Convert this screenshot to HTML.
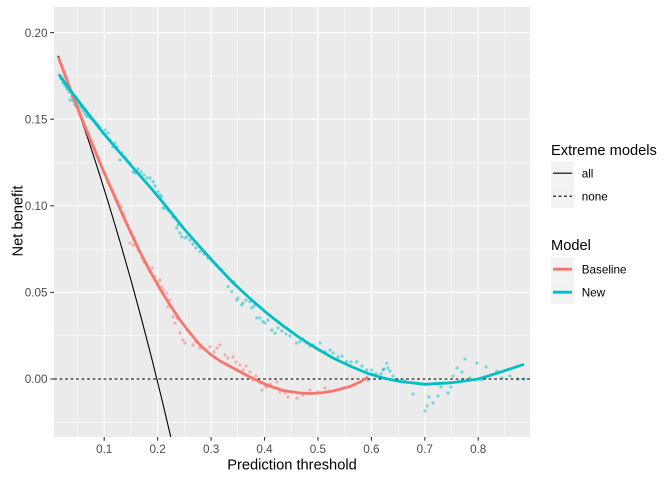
<!DOCTYPE html>
<html>
<head>
<meta charset="utf-8">
<style>
html,body{margin:0;padding:0;background:#fff;}
svg{display:block;}
text{font-family:"Liberation Sans",Arial,sans-serif;}
</style>
</head>
<body>
<svg width="672" height="480" viewBox="0 0 672 480" xmlns="http://www.w3.org/2000/svg">
<defs>
<clipPath id="pc"><rect x="54" y="7" width="476" height="430"/></clipPath>
</defs>
<rect x="0" y="0" width="672" height="480" fill="#fff"/>
<!-- panel -->
<rect x="54" y="7" width="476" height="430" fill="#EBEBEB"/>
<!-- minor grid -->
<g stroke="#fff" stroke-width="0.55" fill="none">
<line x1="54" x2="530" y1="75.9" y2="75.9"/>
<line x1="54" x2="530" y1="162.5" y2="162.5"/>
<line x1="54" x2="530" y1="249.1" y2="249.1"/>
<line x1="54" x2="530" y1="335.7" y2="335.7"/>
<line x1="54" x2="530" y1="422.3" y2="422.3"/>
<line y1="7" y2="437" x1="77.5" x2="77.5"/>
<line y1="7" y2="437" x1="130.9" x2="130.9"/>
<line y1="7" y2="437" x1="184.4" x2="184.4"/>
<line y1="7" y2="437" x1="237.8" x2="237.8"/>
<line y1="7" y2="437" x1="291.2" x2="291.2"/>
<line y1="7" y2="437" x1="344.6" x2="344.6"/>
<line y1="7" y2="437" x1="398.1" x2="398.1"/>
<line y1="7" y2="437" x1="451.5" x2="451.5"/>
<line y1="7" y2="437" x1="504.9" x2="504.9"/>
</g>
<!-- major grid -->
<g stroke="#fff" stroke-width="1.1" fill="none">
<line x1="54" x2="530" y1="32.6" y2="32.6"/>
<line x1="54" x2="530" y1="119.2" y2="119.2"/>
<line x1="54" x2="530" y1="205.8" y2="205.8"/>
<line x1="54" x2="530" y1="292.4" y2="292.4"/>
<line x1="54" x2="530" y1="379" y2="379"/>
<line y1="7" y2="437" x1="104.2" x2="104.2"/>
<line y1="7" y2="437" x1="157.6" x2="157.6"/>
<line y1="7" y2="437" x1="211.1" x2="211.1"/>
<line y1="7" y2="437" x1="264.5" x2="264.5"/>
<line y1="7" y2="437" x1="317.9" x2="317.9"/>
<line y1="7" y2="437" x1="371.4" x2="371.4"/>
<line y1="7" y2="437" x1="424.8" x2="424.8"/>
<line y1="7" y2="437" x1="478.2" x2="478.2"/>
</g>

<g clip-path="url(#pc)">
<!-- Baseline points -->
<g fill="#F8766D" fill-opacity="0.5">
<circle cx="58.5" cy="57" r="1.6"/><circle cx="60" cy="61" r="1.6"/><circle cx="61.5" cy="66" r="1.6"/><circle cx="63" cy="71" r="1.6"/><circle cx="64.5" cy="76" r="1.6"/><circle cx="66" cy="80" r="1.6"/><circle cx="67.5" cy="84" r="1.6"/><circle cx="69" cy="87" r="1.6"/><circle cx="70.5" cy="91" r="1.6"/><circle cx="72" cy="95" r="1.6"/><circle cx="73.5" cy="99" r="1.6"/><circle cx="75" cy="103" r="1.6"/><circle cx="76.5" cy="107" r="1.6"/><circle cx="78" cy="111" r="1.6"/><circle cx="79.5" cy="115" r="1.6"/><circle cx="81" cy="118" r="1.6"/><circle cx="82.5" cy="121" r="1.6"/><circle cx="84" cy="125" r="1.6"/><circle cx="85.5" cy="128" r="1.6"/><circle cx="87" cy="131" r="1.6"/><circle cx="88.5" cy="134" r="1.6"/><circle cx="90" cy="139" r="1.6"/><circle cx="91.5" cy="141" r="1.6"/><circle cx="93" cy="145" r="1.6"/><circle cx="94.5" cy="148" r="1.6"/><circle cx="96" cy="152" r="1.6"/><circle cx="97.5" cy="156" r="1.6"/><circle cx="99" cy="160" r="1.6"/><circle cx="100.5" cy="163" r="1.6"/><circle cx="102" cy="167" r="1.6"/><circle cx="103" cy="171.7" r="1.6"/><circle cx="105" cy="174" r="1.6"/><circle cx="106.5" cy="178" r="1.6"/><circle cx="108" cy="183" r="1.6"/><circle cx="110" cy="186" r="1.6"/><circle cx="111.5" cy="189" r="1.6"/><circle cx="113" cy="191.7" r="1.6"/><circle cx="115" cy="195" r="1.6"/><circle cx="116.5" cy="199" r="1.6"/><circle cx="118" cy="201.7" r="1.6"/><circle cx="120" cy="208" r="1.6"/><circle cx="121" cy="206" r="1.6"/><circle cx="123" cy="213" r="1.6"/><circle cx="124.5" cy="216" r="1.6"/><circle cx="125" cy="220" r="1.6"/><circle cx="127" cy="224" r="1.6"/><circle cx="128.5" cy="228" r="1.6"/><circle cx="130" cy="243" r="1.6"/><circle cx="131" cy="232" r="1.6"/><circle cx="133" cy="245" r="1.6"/><circle cx="134" cy="238" r="1.6"/><circle cx="136" cy="245" r="1.6"/><circle cx="138" cy="250" r="1.6"/><circle cx="140" cy="252" r="1.6"/><circle cx="142" cy="258" r="1.6"/><circle cx="144" cy="262" r="1.6"/><circle cx="146" cy="264" r="1.6"/><circle cx="148" cy="268" r="1.6"/><circle cx="150" cy="271.7" r="1.6"/><circle cx="152" cy="268" r="1.6"/><circle cx="155" cy="276.7" r="1.6"/><circle cx="158" cy="282" r="1.6"/><circle cx="160" cy="280" r="1.6"/><circle cx="161.7" cy="286.7" r="1.6"/><circle cx="163" cy="290" r="1.6"/><circle cx="166.7" cy="293" r="1.6"/><circle cx="168" cy="306.7" r="1.6"/><circle cx="170" cy="300" r="1.6"/><circle cx="173" cy="316.7" r="1.6"/><circle cx="175" cy="323" r="1.6"/><circle cx="177" cy="318" r="1.6"/><circle cx="180" cy="333" r="1.6"/><circle cx="183" cy="340" r="1.6"/><circle cx="185" cy="343" r="1.6"/><circle cx="187" cy="330" r="1.6"/><circle cx="190" cy="333" r="1.6"/><circle cx="193" cy="345" r="1.6"/><circle cx="196" cy="342" r="1.6"/><circle cx="200" cy="348" r="1.6"/><circle cx="203" cy="348" r="1.6"/><circle cx="206" cy="350" r="1.6"/><circle cx="210" cy="346.7" r="1.6"/><circle cx="214" cy="352" r="1.6"/><circle cx="217" cy="348" r="1.6"/><circle cx="220" cy="345" r="1.6"/><circle cx="225" cy="355" r="1.6"/><circle cx="228" cy="358" r="1.6"/><circle cx="233" cy="357" r="1.6"/><circle cx="236" cy="362" r="1.6"/><circle cx="240" cy="365" r="1.6"/><circle cx="243" cy="370" r="1.6"/><circle cx="246" cy="366" r="1.6"/><circle cx="250" cy="372" r="1.6"/><circle cx="253" cy="380" r="1.6"/><circle cx="256" cy="376" r="1.6"/><circle cx="260" cy="383" r="1.6"/><circle cx="262" cy="390" r="1.6"/><circle cx="265" cy="386" r="1.6"/><circle cx="267" cy="387" r="1.6"/><circle cx="270" cy="384" r="1.6"/><circle cx="274" cy="388" r="1.6"/><circle cx="277" cy="382" r="1.6"/><circle cx="280" cy="392" r="1.6"/><circle cx="285" cy="393" r="1.6"/><circle cx="288" cy="397" r="1.6"/><circle cx="292" cy="392" r="1.6"/><circle cx="297" cy="398" r="1.6"/><circle cx="303" cy="395" r="1.6"/><circle cx="310" cy="390" r="1.6"/><circle cx="318" cy="392" r="1.6"/><circle cx="325" cy="388" r="1.6"/>
</g>
<!-- New points -->
<g fill="#00BFC4" fill-opacity="0.5">
<circle cx="59" cy="75" r="1.6"/><circle cx="61" cy="79" r="1.6"/><circle cx="63" cy="83" r="1.6"/><circle cx="65" cy="86" r="1.6"/><circle cx="67" cy="89" r="1.6"/><circle cx="69" cy="92" r="1.6"/><circle cx="70" cy="100" r="1.6"/><circle cx="72" cy="97" r="1.6"/><circle cx="73" cy="101" r="1.6"/><circle cx="75" cy="105" r="1.6"/><circle cx="77" cy="103" r="1.6"/><circle cx="79" cy="106" r="1.6"/><circle cx="81" cy="108" r="1.6"/><circle cx="83" cy="111" r="1.6"/><circle cx="85" cy="114" r="1.6"/><circle cx="86.7" cy="116.7" r="1.6"/><circle cx="88" cy="115" r="1.6"/><circle cx="90" cy="118" r="1.6"/><circle cx="92" cy="119" r="1.6"/><circle cx="94" cy="121" r="1.6"/><circle cx="96" cy="123" r="1.6"/><circle cx="98" cy="125" r="1.6"/><circle cx="100" cy="127" r="1.6"/><circle cx="103" cy="133" r="1.6"/><circle cx="105" cy="130" r="1.6"/><circle cx="108" cy="133" r="1.6"/><circle cx="110" cy="140" r="1.6"/><circle cx="113" cy="146.7" r="1.6"/><circle cx="115" cy="143" r="1.6"/><circle cx="117" cy="147" r="1.6"/><circle cx="120" cy="160" r="1.6"/><circle cx="122" cy="153" r="1.6"/><circle cx="125" cy="157" r="1.6"/><circle cx="127" cy="160" r="1.6"/><circle cx="130" cy="163" r="1.6"/><circle cx="133" cy="171.7" r="1.6"/><circle cx="135" cy="173" r="1.6"/><circle cx="138" cy="169" r="1.6"/><circle cx="141" cy="172" r="1.6"/><circle cx="144" cy="175" r="1.6"/><circle cx="147" cy="178" r="1.6"/><circle cx="150" cy="178" r="1.6"/><circle cx="153" cy="181.7" r="1.6"/><circle cx="155" cy="186" r="1.6"/><circle cx="158" cy="191.7" r="1.6"/><circle cx="160" cy="195" r="1.6"/><circle cx="161.7" cy="196.7" r="1.6"/><circle cx="163" cy="208" r="1.6"/><circle cx="165" cy="208" r="1.6"/><circle cx="168" cy="210" r="1.6"/><circle cx="170" cy="212" r="1.6"/><circle cx="173" cy="217" r="1.6"/><circle cx="176.7" cy="228" r="1.6"/><circle cx="178" cy="225" r="1.6"/><circle cx="180" cy="233" r="1.6"/><circle cx="181.7" cy="236.7" r="1.6"/><circle cx="185" cy="238" r="1.6"/><circle cx="186.7" cy="236.7" r="1.6"/><circle cx="190" cy="240" r="1.6"/><circle cx="193" cy="244" r="1.6"/><circle cx="196" cy="248" r="1.6"/><circle cx="200" cy="251.7" r="1.6"/><circle cx="204" cy="254" r="1.6"/><circle cx="208" cy="258" r="1.6"/><circle cx="212" cy="261" r="1.6"/><circle cx="216.7" cy="265" r="1.6"/><circle cx="219" cy="268" r="1.6"/><circle cx="221.7" cy="270" r="1.6"/><circle cx="224" cy="273" r="1.6"/><circle cx="228" cy="286.7" r="1.6"/><circle cx="231.7" cy="291.7" r="1.6"/><circle cx="234" cy="282" r="1.6"/><circle cx="236.7" cy="300" r="1.6"/><circle cx="238" cy="298" r="1.6"/><circle cx="241.7" cy="305" r="1.6"/><circle cx="243" cy="303" r="1.6"/><circle cx="246" cy="300" r="1.6"/><circle cx="250" cy="301.7" r="1.6"/><circle cx="251.7" cy="308" r="1.6"/><circle cx="254" cy="306" r="1.6"/><circle cx="256.7" cy="318" r="1.6"/><circle cx="260" cy="318" r="1.6"/><circle cx="263" cy="321.7" r="1.6"/><circle cx="265" cy="323" r="1.6"/><circle cx="268" cy="320" r="1.6"/><circle cx="271.7" cy="330" r="1.6"/><circle cx="275" cy="333" r="1.6"/><circle cx="278" cy="328" r="1.6"/><circle cx="282" cy="331" r="1.6"/><circle cx="286" cy="334" r="1.6"/><circle cx="290" cy="336" r="1.6"/><circle cx="296.7" cy="343" r="1.6"/><circle cx="300" cy="341.7" r="1.6"/><circle cx="303" cy="339" r="1.6"/><circle cx="306.7" cy="343" r="1.6"/><circle cx="310" cy="346" r="1.6"/><circle cx="313" cy="345" r="1.6"/><circle cx="316" cy="348" r="1.6"/><circle cx="320" cy="343" r="1.6"/><circle cx="325" cy="351.7" r="1.6"/><circle cx="330" cy="350" r="1.6"/><circle cx="333" cy="353" r="1.6"/><circle cx="338" cy="357" r="1.6"/><circle cx="342" cy="356" r="1.6"/><circle cx="346.7" cy="361.7" r="1.6"/><circle cx="351" cy="362" r="1.6"/><circle cx="356.7" cy="361.7" r="1.6"/><circle cx="362" cy="366" r="1.6"/><circle cx="366.7" cy="370" r="1.6"/><circle cx="368" cy="380" r="1.6"/><circle cx="371.7" cy="370" r="1.6"/><circle cx="376" cy="374" r="1.6"/><circle cx="381" cy="374" r="1.6"/><circle cx="383" cy="370" r="1.6"/><circle cx="384" cy="369" r="1.6"/><circle cx="386.7" cy="363.3" r="1.6"/><circle cx="388" cy="368" r="1.6"/><circle cx="390" cy="371" r="1.6"/><circle cx="393" cy="376" r="1.6"/><circle cx="398" cy="380" r="1.6"/><circle cx="405" cy="381" r="1.6"/><circle cx="413" cy="394" r="1.6"/><circle cx="420" cy="384" r="1.6"/><circle cx="425" cy="411" r="1.6"/><circle cx="427" cy="406" r="1.6"/><circle cx="429" cy="397" r="1.6"/><circle cx="433" cy="403" r="1.6"/><circle cx="438" cy="396" r="1.6"/><circle cx="441" cy="387" r="1.6"/><circle cx="448" cy="393" r="1.6"/><circle cx="451" cy="387" r="1.6"/><circle cx="453" cy="376" r="1.6"/><circle cx="457" cy="368" r="1.6"/><circle cx="462" cy="372" r="1.6"/><circle cx="465" cy="359" r="1.6"/><circle cx="470" cy="378" r="1.6"/><circle cx="477" cy="363" r="1.6"/><circle cx="482" cy="380" r="1.6"/><circle cx="486" cy="367" r="1.6"/><circle cx="491" cy="375" r="1.6"/><circle cx="497" cy="371" r="1.6"/><circle cx="502" cy="378" r="1.6"/><circle cx="510" cy="376" r="1.6"/><circle cx="518" cy="379" r="1.6"/><circle cx="524" cy="379" r="1.6"/>
</g>

<!-- "none" line -->
<line x1="54" x2="530" y1="379" y2="379" stroke="#000" stroke-width="1.1" stroke-dasharray="3 2.5"/>

<!-- "all" line -->
<polyline fill="none" stroke="#000" stroke-width="1.1" stroke-linejoin="round"
points="58.3,56 66.8,78 77.5,108.1 88.2,139.5 98.9,172.3 109.5,206.5 120.2,242.4 130.9,279.9 141.6,319.3 152.3,360.6 163,404 173.7,449.6"/>

<!-- Baseline smooth -->
<polyline fill="none" stroke="#F8766D" stroke-width="2.8" stroke-linejoin="round" stroke-linecap="butt"
points="58.3,57 70,88 80,114 90,139 100,163 110,186 120,209 130,231 140,252 150,271 160,289 170,305 180,320 190,333 200,345 210,354 220,361 233,368 250,377 267,385 283,390.5 300,393 310,393.5 320,393 333,391 350,386.5 360,382 368,377"/>

<!-- New smooth -->
<polyline fill="none" stroke="#00BFC4" stroke-width="2.8" stroke-linejoin="round" stroke-linecap="butt"
points="59.3,75 70,90 80,103 90,116 100,129 116.7,149 133.3,168 150,187 166.7,207 183.3,228 200,247 216.7,265.5 233.3,283 250,298.5 266.7,313 283.3,326 300,338 316.7,348.5 333,358 350,366 366.7,373 383,378 400,381.5 425,384.3 451.7,382.7 478.3,379 496.7,373.3 524,364.3"/>
</g>

<!-- axis ticks -->
<g stroke="#333" stroke-width="1.1">
<line x1="50.3" x2="54" y1="32.6" y2="32.6"/>
<line x1="50.3" x2="54" y1="119.2" y2="119.2"/>
<line x1="50.3" x2="54" y1="205.8" y2="205.8"/>
<line x1="50.3" x2="54" y1="292.4" y2="292.4"/>
<line x1="50.3" x2="54" y1="379" y2="379"/>
<line y1="437" y2="440.7" x1="104.2" x2="104.2"/>
<line y1="437" y2="440.7" x1="157.6" x2="157.6"/>
<line y1="437" y2="440.7" x1="211.1" x2="211.1"/>
<line y1="437" y2="440.7" x1="264.5" x2="264.5"/>
<line y1="437" y2="440.7" x1="317.9" x2="317.9"/>
<line y1="437" y2="440.7" x1="371.4" x2="371.4"/>
<line y1="437" y2="440.7" x1="424.8" x2="424.8"/>
<line y1="437" y2="440.7" x1="478.2" x2="478.2"/>
</g>

<!-- y tick labels -->
<g font-size="11.7" fill="#4D4D4D" text-anchor="end">
<text x="47.5" y="36.8">0.20</text>
<text x="47.5" y="123.4">0.15</text>
<text x="47.5" y="210">0.10</text>
<text x="47.5" y="296.6">0.05</text>
<text x="47.5" y="383.2">0.00</text>
</g>
<!-- x tick labels -->
<g font-size="11.7" fill="#4D4D4D" text-anchor="middle">
<text x="104.2" y="453">0.1</text>
<text x="157.6" y="453">0.2</text>
<text x="211.1" y="453">0.3</text>
<text x="264.5" y="453">0.4</text>
<text x="317.9" y="453">0.5</text>
<text x="371.4" y="453">0.6</text>
<text x="424.8" y="453">0.7</text>
<text x="478.2" y="453">0.8</text>
</g>

<!-- axis titles -->
<text x="292" y="469.5" font-size="14.67" fill="#000" text-anchor="middle">Prediction threshold</text>
<text transform="translate(22.5,221) rotate(-90)" font-size="14.67" fill="#000" text-anchor="middle">Net benefit</text>

<!-- legend: Extreme models -->
<text x="551" y="155" font-size="14.67" fill="#000">Extreme models</text>
<rect x="551" y="161.7" width="23" height="23" fill="#F2F2F2"/>
<rect x="551" y="184.7" width="23" height="23" fill="#F2F2F2"/>
<line x1="553" x2="572" y1="173.2" y2="173.2" stroke="#000" stroke-width="1.1"/>
<line x1="553" x2="572" y1="196.2" y2="196.2" stroke="#000" stroke-width="1.1" stroke-dasharray="3 2.5"/>
<text x="581.7" y="177.4" font-size="11.7" fill="#000">all</text>
<text x="581.7" y="200.4" font-size="11.7" fill="#000">none</text>

<!-- legend: Model -->
<text x="551" y="250" font-size="14.67" fill="#000">Model</text>
<rect x="551" y="257.7" width="23" height="23" fill="#F2F2F2"/>
<rect x="551" y="280.7" width="23" height="23" fill="#F2F2F2"/>
<line x1="553" x2="572" y1="269.2" y2="269.2" stroke="#F8766D" stroke-width="2.8"/>
<line x1="553" x2="572" y1="292.2" y2="292.2" stroke="#00BFC4" stroke-width="2.8"/>
<text x="581.7" y="273.4" font-size="11.7" fill="#000">Baseline</text>
<text x="581.7" y="296.4" font-size="11.7" fill="#000">New</text>
</svg>
</body>
</html>
